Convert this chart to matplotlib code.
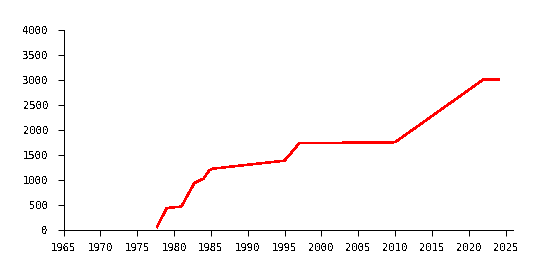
import matplotlib
matplotlib.use("Agg")
import matplotlib.pyplot as plt

# values
years = [1977.7, 1979, 1981, 1982.75, 1984, 1984.8, 1985.3,
         1995, 1997, 2003.4, 2010, 2022, 2024]
values = [50, 430, 460, 930, 1020, 1190, 1220,
          1380, 1730, 1740, 1750, 3010, 3010]

x_ticks = list(range(1965, 2026, 5))
y_ticks = list(range(0, 4001, 500))

plt.rcParams["font.family"] = "DejaVu Sans Mono"
plt.rcParams["text.antialiased"] = False

fig = plt.figure(figsize=(5.41, 2.70), dpi=100)
ax = fig.add_axes([63.5 / 541, 40.5 / 270, 449.5 / 541, 199.5 / 270])

ax.plot(years, values, color="#ff0000", linewidth=1.1,
        antialiased=False, clip_on=False)

ax.set_xlim(1965, 2026)
ax.set_ylim(0, 4000)
ax.set_xticks(x_ticks)
ax.set_yticks(y_ticks)

for side in ["top", "right"]:
    ax.spines[side].set_visible(False)
for side in ["left", "bottom"]:
    ax.spines[side].set_linewidth(0.72)
    ax.spines[side].set_antialiased(False)

ax.tick_params(axis="both", length=4.5, width=0.72, labelsize=7.6, color="black")
ax.tick_params(axis="y", pad=6.5)
ax.tick_params(axis="x", pad=5)

fig.savefig("out.png", dpi=100)
plt.close()
